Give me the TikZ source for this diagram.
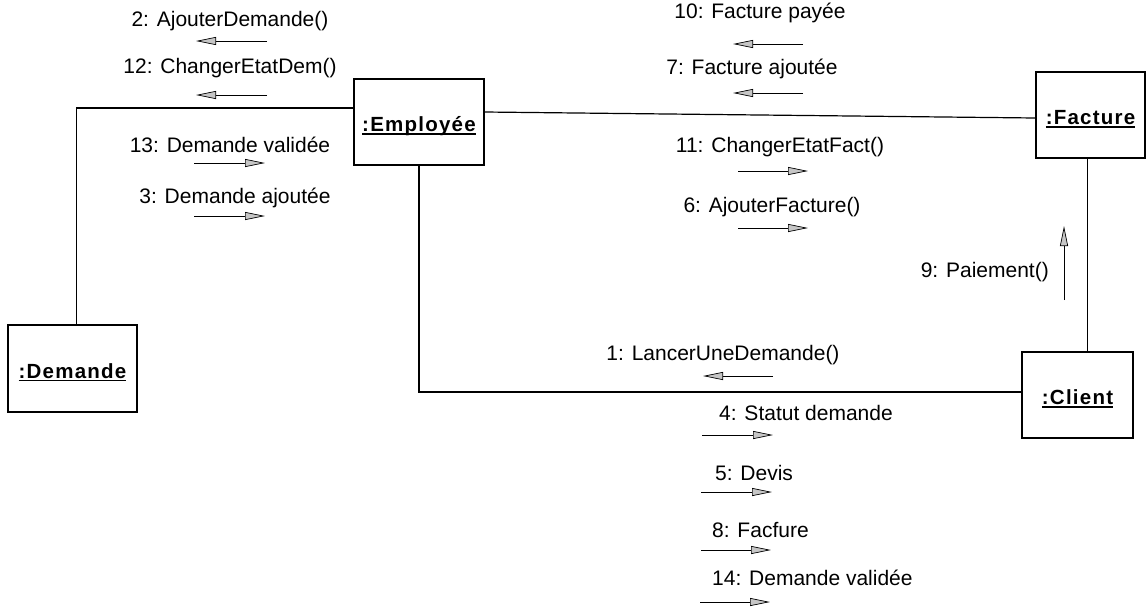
\documentclass[tikz,border=0pt]{standalone}
\usepackage{fontspec}
\setmainfont{Liberation Sans}
\newfontfamily\objfamily{Liberation Sans}[LetterSpace=6]
\usetikzlibrary{arrows.meta}

% object name: bold, underlined at a fixed distance below the baseline
\newcommand\objname[1]{\setbox0\hbox{#1}\rlap{\rule[-3pt]{\wd0}{1.3pt}}\box0}

\begin{document}
\begin{tikzpicture}[x=1pt,y=-1pt,
  obj/.style={draw, line width=1.2pt, fill=white, inner sep=0pt,
    text height=19pt, text depth=0pt,
    font=\objfamily\bfseries\fontsize{20.5}{24}\selectfont},
  msglabel/.style={inner sep=0pt, font=\fontsize{21}{25}\selectfont},
  link/.style={line width=1.2pt},
  msg/.style={line width=1pt,
    -{Triangle[length=20pt,width=8pt,fill=gray!45,line width=0.7pt]}}]

\useasboundingbox (0,0) rectangle (1148,611);
\fill[white] (0,0) rectangle (1148,611);

% objects
\node[obj, minimum width=130pt, minimum height=86pt] (emp) at (419,122) {\objname{:Employée}};
\node[obj, minimum width=129pt, minimum height=87pt] (dem) at (72.5,368.5) {\objname{:Demande}};
\node[obj, minimum width=109pt, minimum height=86pt] (fac) at (1090.5,115) {\objname{:Facture}};
\node[obj, minimum width=111pt, minimum height=86pt] (cli) at (1077.5,395) {\objname{:Client}};

% links
\draw[link] ([yshift=14pt]emp.west) -| ([xshift=4pt]dem.north);
\draw[link] ([yshift=10pt]emp.east) -- ([yshift=-3pt]fac.west);
\draw[link] (emp.south) |- ([yshift=3pt]cli.west);
\draw[link] ([xshift=-3pt]fac.south) -- ([xshift=-3pt]fac.south |- cli.north);

% messages Employée -- Demande
\node[msglabel] (m2) at (230,21) {2: AjouterDemande()};
\coordinate (m2a) at (267,41); \coordinate (m2b) at (196,41);
\draw[msg] (m2a) -- (m2b);
\node[msglabel] (m12) at (230,68) {12: ChangerEtatDem()};
\coordinate (m12a) at (267,95); \coordinate (m12b) at (196,95);
\draw[msg] (m12a) -- (m12b);
\node[msglabel] (m13) at (230,145) {13: Demande validée};
\coordinate (m13a) at (194,163); \coordinate (m13b) at (265,163);
\draw[msg] (m13a) -- (m13b);
\node[msglabel] (m3) at (235,198) {3: Demande ajoutée};
\coordinate (m3a) at (194,216); \coordinate (m3b) at (265,216);
\draw[msg] (m3a) -- (m3b);

% messages Employée -- Facture
\node[msglabel] (m10) at (760,13) {10: Facture payée};
\coordinate (m10a) at (803,44); \coordinate (m10b) at (733,44);
\draw[msg] (m10a) -- (m10b);
\node[msglabel] (m7) at (752,69) {7: Facture ajoutée};
\coordinate (m7a) at (803,93); \coordinate (m7b) at (733,93);
\draw[msg] (m7a) -- (m7b);
\node[msglabel] (m11) at (780,147) {11: ChangerEtatFact()};
\coordinate (m11a) at (738,171); \coordinate (m11b) at (808,171);
\draw[msg] (m11a) -- (m11b);
\node[msglabel] (m6) at (772,207) {6: AjouterFacture()};
\coordinate (m6a) at (738,228); \coordinate (m6b) at (808,228);
\draw[msg] (m6a) -- (m6b);

% message Client -- Facture
\node[msglabel, anchor=east] (m9) at (1049,272) {9: Paiement()};
\coordinate (m9a) at (1064,300); \coordinate (m9b) at (1064,226);
\draw[msg] (m9a) -- (m9b);

% messages Employée -- Client
\node[msglabel] (m1) at (723,355) {1: LancerUneDemande()};
\coordinate (m1a) at (773,376); \coordinate (m1b) at (703,376);
\draw[msg] (m1a) -- (m1b);
\node[msglabel, anchor=west] (m4) at (719,413) {4: Statut demande};
\coordinate (m4a) at (702,435); \coordinate (m4b) at (773,435);
\draw[msg] (m4a) -- (m4b);
\node[msglabel, anchor=west] (m5) at (715,473) {5: Devis};
\coordinate (m5a) at (701,492); \coordinate (m5b) at (772,492);
\draw[msg] (m5a) -- (m5b);
\node[msglabel, anchor=west] (m8) at (712,530) {8: Facfure};
\coordinate (m8a) at (701,550); \coordinate (m8b) at (771,550);
\draw[msg] (m8a) -- (m8b);
\node[msglabel, anchor=west] (m14) at (712,578) {14: Demande validée};
\coordinate (m14a) at (700,602); \coordinate (m14b) at (770,602);
\draw[msg] (m14a) -- (m14b);

\end{tikzpicture}
\end{document}
